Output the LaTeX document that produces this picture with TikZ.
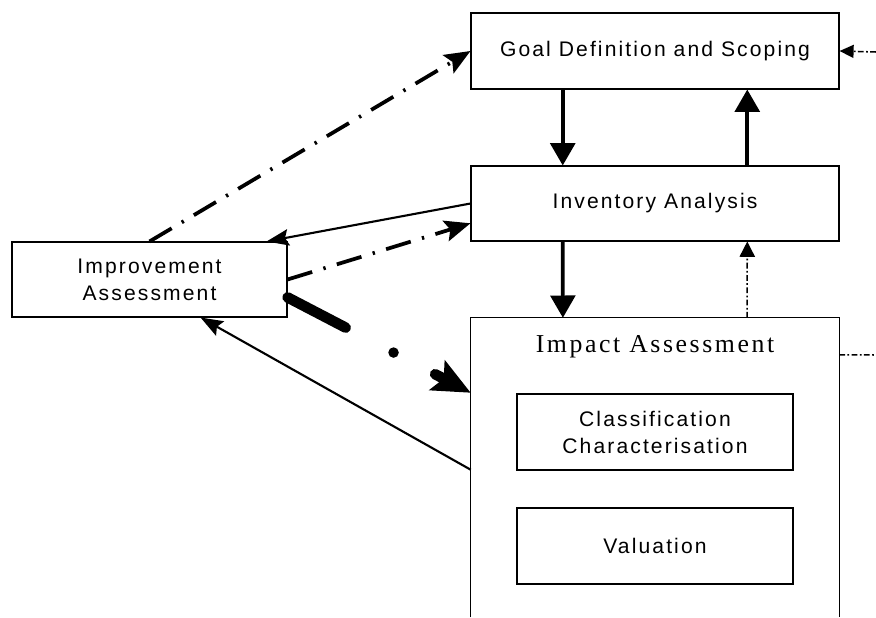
\documentclass[tikz,border=0pt]{standalone}
\usepackage{fontspec}
\setmainfont{Liberation Sans}[LetterSpace=10]
\newfontfamily\titlefont{Liberation Serif}[LetterSpace=10]
\usetikzlibrary{arrows.meta,calc}

\begin{document}
\begin{tikzpicture}[x=0.03cm, y=-0.03cm,
	box/.style={draw, line width=0.9pt, align=center, inner sep=0pt, font=\fontsize{18}{23}\selectfont},
	flow/.style={line width=3.2pt, -{Triangle[length=19pt,width=21pt]}},
	link/.style={line width=1.8pt, -{Stealth[length=19pt,width=14pt,inset=3pt]}},
	chain/.style={line width=3.2pt, dash pattern=on 22pt off 10pt on 2pt off 10pt, -{Stealth[length=22pt,width=18pt,inset=4pt]}},
	fine/.style={line width=1.3pt, dash pattern=on 5pt off 2pt on 1.5pt off 2pt},
	heavy/.style={line width=9pt, line cap=round, dash pattern=on 56pt off 46pt on 0pt off 40pt on 30pt, -{Stealth[length=32pt,width=28pt,inset=6pt]}}]
	\useasboundingbox (0,0) rectangle (876,617);
	% the stages
	\node[box, minimum width=11.04cm, minimum height=2.28cm] (goal) at (655,51) {Goal Definition and Scoping};
	\node[box, minimum width=11.04cm, minimum height=2.25cm] (inv) at (655,203.5) {Inventory Analysis};
	\node[box, minimum width=8.25cm, minimum height=2.25cm] (impr) at (149.5,279.5) {Improvement\\Assessment};
	\node[minimum width=11.04cm, minimum height=8.97cm, inner sep=0pt] (impact) at (655,467.5) {};
	\draw[line width=0.9pt] (impact.south west) |- (impact.north east) -- (impact.south east);
	\node[font=\titlefont\fontsize{22}{26}\selectfont] (impacttitle) at (655,347) {Impact Assessment};
	\node[box, minimum width=8.28cm, minimum height=2.28cm] (classif) at (655,432) {Classification\\Characterisation};
	\node[box, minimum width=8.28cm, minimum height=2.28cm] (valu) at (655,546) {Valuation};
	% flows between the stages
	\draw[flow] ($(goal.south west)!.25!(goal.south east)$) -- ($(inv.north west)!.25!(inv.north east)$);
	\draw[flow] ($(inv.north west)!.75!(inv.north east)$) -- ($(goal.south west)!.75!(goal.south east)$);
	\draw[flow] ($(inv.south west)!.25!(inv.south east)$) -- ($(impact.north west)!.25!(impact.north east)$);
	\draw[fine, -{Triangle[length=13pt,width=13pt]}] ($(impact.north west)!.75!(impact.north east)$) -- ($(inv.south west)!.75!(inv.south east)$);
	\draw[chain] (impr.north) -- (goal.west);
	\draw[link] (inv.west) -- (impr.18);
	\draw[chain] (impr.east) -- ($(inv.west)!.52!(inv.south west)$);
	\draw[heavy] ($(impr.east)!.47!(impr.south east)$) -- ($(impact.north west)+(0,75)$);
	\draw[link] ($(impact.north west)+(0,152)$) -- ($(impr.south)!.37!(impr.south east)$);
	% loose ends on the right
	\coordinate (feedin) at (876,52);
	\coordinate (feedout) at (876,355);
	\draw[fine, -{Triangle[length=12pt,width=11pt]}] (feedin) -- (goal.east);
	\draw[fine] ($(impact.north east)+(0,37)$) -- (feedout);
\end{tikzpicture}
\end{document}
